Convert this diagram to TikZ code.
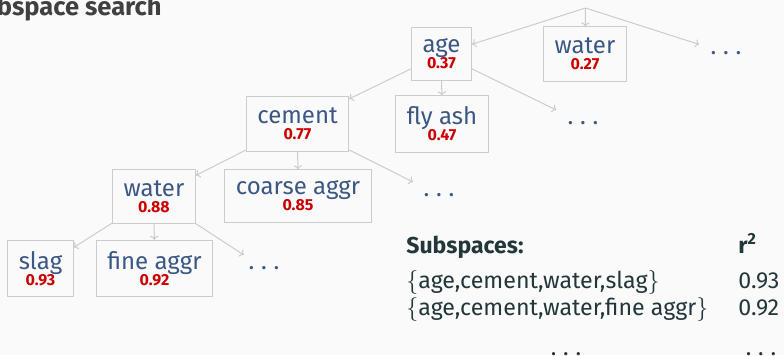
\documentclass[tikz,border=0pt]{standalone}
\usepackage{fontspec}
\setmainfont{Fira Sans}
\usetikzlibrary{arrows.meta}

\definecolor{nodeblue}{HTML}{3B5784}
\definecolor{numred}{HTML}{CC0000}
\definecolor{edgegray}{HTML}{CCCCCC}
\definecolor{tabtext}{HTML}{23373B}
\definecolor{titlegray}{HTML}{404040}
\definecolor{pagebg}{HTML}{FAFAFA}

% score printed under each feature name
\newcommand\score[1]{{\fontsize{8}{8}\selectfont\bfseries\color{numred}#1}}
% feature name with its score, two centred lines 8pt apart
\newcommand\feat[2]{\vbox{\baselineskip=8pt\lineskiplimit=-20pt
  \halign{\hfil##\hfil\cr #1\cr \score{#2}\cr}}}
% widely spaced ellipsis
\newcommand\wdots{.\hspace{3.4pt}.\hspace{3.4pt}.}

\tikzset{
  featbox/.style={draw=edgegray, line width=0.5pt, text=nodeblue,
    inner sep=5.5pt, font={\fontsize{12}{15}\selectfont}},
  morenode/.style={text=nodeblue, inner sep=5.5pt,
    font={\fontsize{12}{15}\selectfont}},
  link/.style={draw=edgegray, line width=0.5pt, -{To[length=2pt,width=4.2pt]}},
  tabcell/.style={anchor=base west, text=tabtext, inner sep=0pt,
    font={\fontsize{11.6}{15}\selectfont}},
  tabhead/.style={tabcell, font={\fontsize{11.5}{15}\selectfont\bfseries}},
  tabdots/.style={anchor=base, text=tabtext, inner sep=0pt,
    font={\fontsize{11.6}{15}\selectfont}},
}

\begin{document}
\begin{tikzpicture}[x=0.5pt,y=-0.5pt]
  \fill[pagebg] (0,0) rectangle (784,355);
  \useasboundingbox (0,0) rectangle (784,355);

  % heading
  \node[anchor=base east, inner sep=0pt, text=titlegray,
        font={\fontsize{12.75}{15}\selectfont\bfseries}] (title) at (162,15) {Subspace search};

  % search tree
  \coordinate (root) at (585.5,8);

  \node[featbox] (age)    at (441.5,54)  {\feat{age}{0.37}};
  \node[featbox] (water1) at (585,54)    {\feat{water}{0.27}};
  \node[morenode] (moreA) at (726,53)    {\wdots};

  \node[featbox] (cement) at (297.5,124) {\feat{cement}{0.77}};
  \node[featbox] (flyash) at (442,124)   {\feat{fly ash}{0.47}};
  \node[morenode] (moreB) at (583,123)   {\wdots};

  \node[featbox] (water2) at (154,196.5) {\feat{water}{0.88}};
  \node[featbox] (coarse) at (298,196)   {\feat{coarse aggr}{0.85}};
  \node[morenode] (moreC) at (439,195)   {\wdots};

  \node[featbox] (slag)   at (40.5,268.5)  {\feat{slag}{0.93}};
  \node[featbox] (fine)   at (154.5,268.5) {\feat{fine aggr}{0.92}};
  \node[morenode] (moreD) at (264,268)     {\wdots};

  \draw[link] (root) -- (age);
  \draw[link] (root) -- (water1);
  \draw[link] (root) -- (moreA);

  \draw[link] (age) -- (cement);
  \draw[link] (age) -- (flyash);
  \draw[link] (age) -- (moreB);

  \draw[link] (cement) -- (water2);
  \draw[link] (cement) -- (coarse);
  \draw[link] (cement) -- (moreC);

  \draw[link] (water2) -- (slag);
  \draw[link] (water2) -- (fine);
  \draw[link] (water2) -- (moreD);

  % result table
  \node[tabhead] (head)  at (406,253) {Subspaces:};
  \node[tabhead] (rhead) at (738,253) {r\textsuperscript{2}};
  \node[tabcell] (setA) at (406,288) {$\{$age,cement,water,slag$\}$};
  \node[tabcell] (valA) at (738,288) {0.93};
  \node[tabcell] (setB) at (406,315) {$\{$age,cement,water,fine aggr$\}$};
  \node[tabcell] (valB) at (738,315) {0.92};
  \node[tabdots] (setC) at (566,355) {\wdots};
  \node[tabdots] (valC) at (761,355) {\wdots};
\end{tikzpicture}
\end{document}
